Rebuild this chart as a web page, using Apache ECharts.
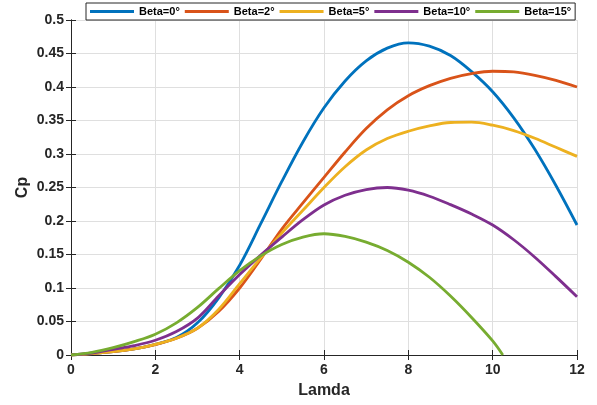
<!DOCTYPE html>
<html><head><meta charset="utf-8">
<script src="https://cdn.jsdelivr.net/npm/echarts@6/dist/echarts.min.js"></script>
<style>html,body{margin:0;padding:0;background:#fff}#c{width:597px;height:405px}</style>
</head><body><div id="c"></div>
<script>
const lamda = [0,0.5,1,1.5,2,2.5,3,3.5,4,4.5,5,5.5,6,6.5,7,7.5,8,8.5,9,9.5,10,10.5,11,11.5,12];
const lamda15 = [0,0.5,1,1.5,2,2.5,3,3.5,4,4.5,5,5.5,6,6.5,7,7.5,8,8.5,9,9.5,10,10.24];
const names = ['Beta=0°','Beta=2°','Beta=5°','Beta=10°','Beta=15°'];
const cp0  = [0,0.002,0.005,0.009,0.016,0.026,0.048,0.085,0.134,0.196,0.259,0.318,0.369,0.409,0.439,0.458,0.466,0.461,0.447,0.423,0.393,0.354,0.307,0.253,0.194];
const cp2  = [0,0.002,0.005,0.009,0.0155,0.025,0.040,0.065,0.100,0.143,0.188,0.227,0.265,0.303,0.338,0.366,0.387,0.402,0.413,0.420,0.4235,0.4225,0.4175,0.410,0.400];
const cp5  = [0,0.002,0.005,0.009,0.016,0.025,0.040,0.068,0.1065,0.145,0.182,0.216,0.250,0.281,0.306,0.323,0.334,0.342,0.347,0.3475,0.343,0.335,0.3235,0.310,0.2965];
const cp10 = [0,0.003,0.0085,0.014,0.022,0.035,0.055,0.088,0.120,0.149,0.176,0.202,0.224,0.2385,0.247,0.250,0.246,0.237,0.2245,0.2105,0.194,0.172,0.146,0.117,0.087];
const cp15 = [0,0.004,0.011,0.020,0.031,0.048,0.071,0.099,0.126,0.148,0.165,0.176,0.181,0.177,0.1685,0.156,0.1385,0.116,0.088,0.056,0.021,0];
const colors = ['#0072BD','#D95319','#EDB120','#7E2F8E','#77AC30'];

const F = "'Liberation Sans', Arial, sans-serif";
const pair = (xs, ys) => xs.map((x,i)=>[x, ys[i]]);
const allY = [cp0,cp2,cp5,cp10,cp15];
const series = allY.map((ys,i)=>({
  name: names[i], type:'line', smooth:0.35, showSymbol:false, symbol:'none',
  data: pair(i===4?lamda15:lamda, ys),
  lineStyle:{width:2.8,color:colors[i]}, itemStyle:{color:colors[i]}, z: 3+i
}));

const chart = echarts.init(document.getElementById('c'), null, {renderer:'canvas'});
const axLine = {show:true, lineStyle:{color:'#262626', width:1}};
const tick = {show:true, inside:true, length:5, lineStyle:{color:'#262626'}};
chart.setOption({
  animation:false,
  grid:{left:71, right:20, top:20, bottom:50, show:false},
  legend:{
    data: names, top:3, left:86, icon:'rect', itemWidth:44, itemHeight:3, itemGap:5,
    backgroundColor:'#fff', borderColor:'#262626', borderWidth:1, padding:[3,4,3,4],
    textStyle:{fontFamily:F, fontSize:11, fontWeight:'bold', color:'#000'}
  },
  xAxis:[{
    type:'value', min:0, max:12, interval:2,
    name:'Lamda', nameLocation:'middle', nameGap:28, nameMoveOverlap:false,
    nameTextStyle:{fontFamily:F, fontSize:16, fontWeight:'bold', color:'#262626'},
    axisLine:axLine, axisTick:tick,
    axisLabel:{fontFamily:F, fontSize:14, fontWeight:'bold', color:'#262626', margin:8},
    splitLine:{show:true, lineStyle:{color:'#dfdfdf', width:1}}
  },{
    type:'value', min:0, max:12, interval:2, position:'top',
    axisLine:axLine, axisTick:tick, axisLabel:{show:false}, splitLine:{show:false}
  }],
  yAxis:[{
    type:'value', min:0, max:0.5, interval:0.05,
    name:'Cp', nameLocation:'middle', nameGap:40, nameRotate:90, nameMoveOverlap:false,
    nameTextStyle:{fontFamily:F, fontSize:16, fontWeight:'bold', color:'#262626'},
    axisLine:axLine, axisTick:tick,
    axisLabel:{fontFamily:F, fontSize:14, fontWeight:'bold', color:'#262626', margin:7,
      formatter:v=>String(+v.toFixed(2))},
    splitLine:{show:true, lineStyle:{color:'#dfdfdf', width:1}}
  },{
    type:'value', min:0, max:0.5, interval:0.05, position:'right',
    axisLine:axLine, axisTick:tick, axisLabel:{show:false}, splitLine:{show:false}
  }],
  series: series
});
</script></body></html>
